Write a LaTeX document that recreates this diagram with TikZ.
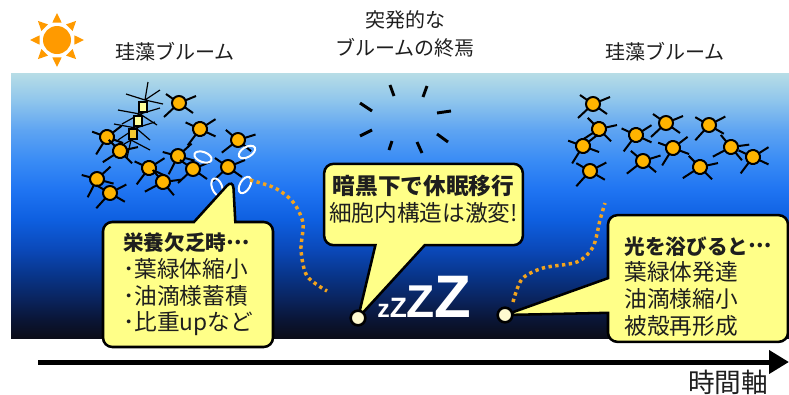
\documentclass[tikz,border=0pt]{standalone}
\usepackage{fontspec}
\setmainfont{Noto Sans CJK JP}
\newfontfamily\zfont{Liberation Sans}
\usetikzlibrary{arrows.meta,shapes.callouts}

\definecolor{sea0}{HTML}{0B0D18}
\definecolor{sea1}{HTML}{0A1535}
\definecolor{sea2}{HTML}{0A235C}
\definecolor{sea3}{HTML}{08358A}
\definecolor{sea4}{HTML}{0A48B8}
\definecolor{sea5}{HTML}{0E5FE0}
\definecolor{sea6}{HTML}{1F74F2}
\definecolor{sea7}{HTML}{3A8CF5}
\definecolor{sea8}{HTML}{5EA4F2}
\definecolor{sea9}{HTML}{90C6EC}
\definecolor{sea10}{HTML}{B7DDE6}
\definecolor{bubblefill}{HTML}{FFFF88}
\definecolor{dotfill}{HTML}{FFFBD0}
\definecolor{cellorange}{HTML}{FFB400}
\definecolor{chainpale}{HTML}{FFFF99}
\definecolor{chaingold}{HTML}{F5C830}
\definecolor{sunorange}{HTML}{FF9A00}
\definecolor{trailorange}{HTML}{F2A41E}
\definecolor{ink}{HTML}{1E1E1E}

\pgfdeclareverticalshading{seawater}{100bp}{color(0bp)=(sea0); color(25bp)=(sea0); color(28.4bp)=(sea1); color(32.2bp)=(sea2); color(36.9bp)=(sea3); color(41.6bp)=(sea4); color(47.3bp)=(sea5); color(52.9bp)=(sea6); color(58.6bp)=(sea7); color(64.2bp)=(sea8); color(69.9bp)=(sea9); color(75bp)=(sea10); color(100bp)=(sea10)}

\newcommand{\middots}{\raisebox{0.32em}{…}}

\tikzset{
    diatom/.pic={
        \draw[line width=1.5pt] (-15,-14) -- (0,0) -- (17,7);
        \draw[line width=1.5pt] (14,-10) -- (-13,9);
        \filldraw[fill=cellorange,line width=1.5pt] (0,0) circle (7);
    }
}

\begin{document}
\begin{tikzpicture}[x=0.75pt,y=0.75pt,yscale=-1,xscale=1,
    headline/.style={text=ink,font=\fontsize{15}{21}\selectfont,align=center,inner sep=0.75pt},
    bubble/.style={rectangle callout,draw,fill=bubblefill,line width=1.9pt,rounded corners=7pt,text=ink,align=left,font=\fontsize{17}{20}\selectfont,inner sep=0pt},
    pausedot/.style={circle,draw,fill=dotfill,line width=1.9pt,minimum size=11pt,inner sep=0pt},
    trail/.style={trailorange,line width=2.6pt,dash pattern=on 2.5pt off 2.6pt}]
\useasboundingbox (0,0) rectangle (789,394);

\shade[shading=seawater] (11,73) rectangle (789,338);

\begin{scope}[shift={(57,40)}]
    \fill[sunorange] (0,0) circle (14);
    \foreach \a in {0,45,...,315}
        \fill[sunorange] (\a:27) -- (\a+15:18) -- (\a-15:18) -- cycle;
\end{scope}

\node[headline] (bloomleft) at (175,52) {珪藻ブルーム};
\node[headline] (collapse) at (405,34) {突発的な\\ブルームの終焉};
\node[headline] (bloomright) at (665,52) {珪藻ブルーム};

\foreach \ax/\ay/\bx/\by in {390/85/394/96, 427/86/423/97, 360/103/372/111, 437/113/451/111, 360/136/372/130, 437/134/448/142, 392/141/389/150, 417/142/422/153}
    \draw[line width=2.2pt] (\ax,\ay) -- (\bx,\by);

\begin{scope}[line width=0.9pt]
    \draw (145,100) -- (148,82) (145,100) -- (160,90) (145,100) -- (126,94) (145,100) -- (163,104);
    \draw (140,114) -- (118,110) (140,114) -- (122,124) (140,114) -- (160,108) (140,114) -- (157,125);
    \draw (136,128) -- (114,124) (136,128) -- (118,140) (136,128) -- (155,122) (136,128) -- (150,140);
    \draw (131,140) -- (127,158) (131,140) -- (114,150) (131,140) -- (150,150);
\end{scope}
\foreach \cx/\cy/\cc in {143/107/chainpale, 138/121/chainpale, 133/134/chaingold}
    \filldraw[fill=\cc,line width=1pt] (\cx-4,\cy-5) rectangle (\cx+4,\cy+5);

\foreach \px/\py/\r in {179/103/0, 200/129/10, 238/140/-5, 107/137/15, 120/151/-10, 178/156/20, 193/169/0, 149/168/10, 163/182/-15, 97/179/20, 110/193/5, 228/167/0}
    \pic[rotate=\r] at (\px,\py) {diatom};
\foreach \px/\py/\r in {593/104/0, 599/129/-10, 583/146/15, 590/171/5, 636/135/10, 643/161/-5, 666/123/0, 673/148/15, 700/167/-10, 709/125/5, 731/147/-15, 753/157/10}
    \pic[rotate=\r] at (\px,\py) {diatom};

\begin{scope}[white,line width=1.5pt]
    \draw[rotate around={20:(203,157)}] (203,157) ellipse [x radius=9,y radius=5];
    \draw[rotate around={-30:(247,152)}] (247,152) ellipse [x radius=9,y radius=5];
    \draw[rotate around={70:(217,187)}] (217,187) ellipse [x radius=9,y radius=5];
    \draw[rotate around={-60:(245,185)}] (245,185) ellipse [x radius=9,y radius=5];
\end{scope}

\draw[trail] plot[smooth] coordinates {(250,180) (275,188) (293,202) (303,223) (301,250) (307,276) (327,291)};
\draw[trail] plot[smooth] coordinates {(513,302) (522,279) (543,268) (577,262) (593,247) (600,220) (605,203)};

\coordinate (starved) at (233,179);
\coordinate (rest) at (358,318);
\coordinate (wake) at (505,315);

\node[bubble,callout absolute pointer=(starved),callout pointer width=31pt,minimum width=127.5pt,minimum height=93.75pt] (hunger) at (188,284.5)
    {{\fontsize{15.5}{20}\selectfont\bfseries 栄養欠乏時\middots}\\･葉緑体縮小\\･油滴様蓄積\\･比重upなど};
\node[bubble,align=center,callout absolute pointer=(rest),callout pointer width=37pt,minimum width=149pt,minimum height=61pt] (dormancy) at (423.5,204.5)
    {\textbf{暗黒下で休眠移行}\\細胞内構造は激変!\rule[-9pt]{0pt}{9pt}};
\node[bubble,callout absolute pointer=(wake),callout pointer width=26pt,minimum width=135pt,minimum height=95pt] (revival) at (698,278.5)
    {\rule{0pt}{25pt}{\fontsize{15.5}{20}\selectfont\bfseries 光を浴びると\middots}\\葉緑体発達\\油滴様縮小\\被殻再形成};

\node[pausedot] (restdot) at (rest) {};
\node[pausedot] (wakedot) at (wake) {};

\node[anchor=base west,inner sep=0pt,text=white,font=\zfont\bfseries] (snore) at (377,317)
    {{\fontsize{18.75}{20}\selectfont z}{\fontsize{21}{22}\selectfont Z}{\fontsize{34.5}{36}\selectfont Z}{\fontsize{45}{46}\selectfont Z}};

\coordinate (tstart) at (38,362);
\coordinate (tend) at (789,362);
\draw[line width=3.75pt,-{Triangle[length=15pt,width=17pt]}] (tstart) -- (tend);
\node[headline,font=\fontsize{20}{24}\selectfont] (timeaxis) at (728,382) {時間軸};
\end{tikzpicture}
\end{document}
